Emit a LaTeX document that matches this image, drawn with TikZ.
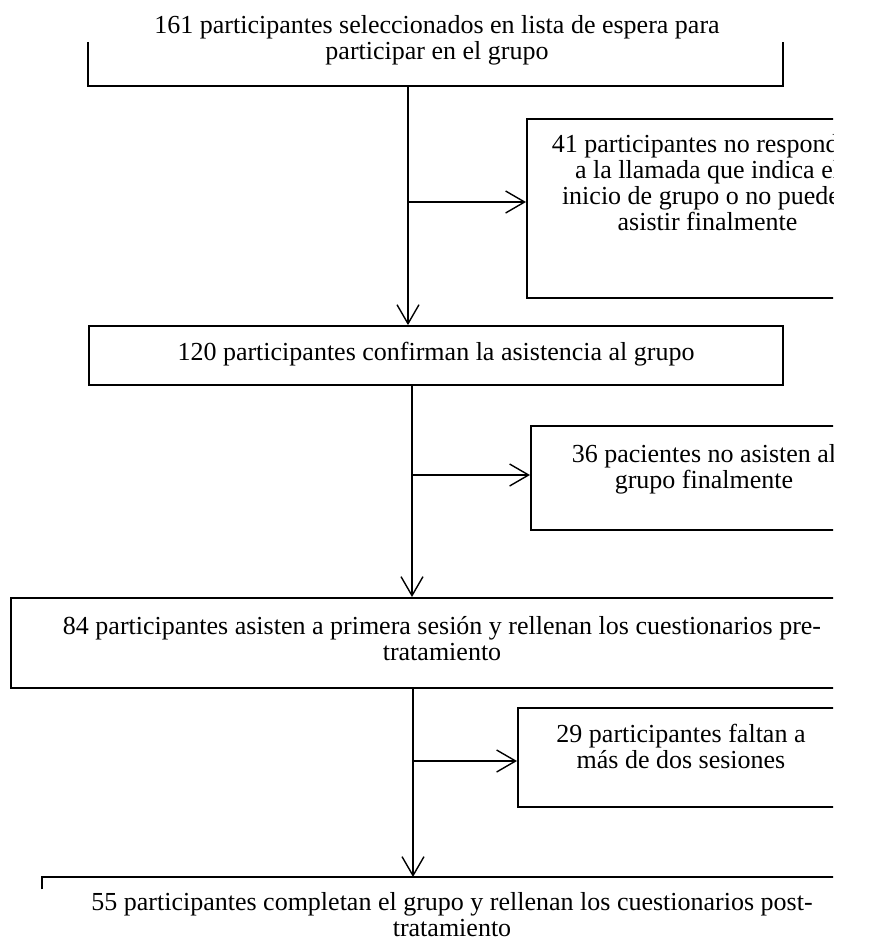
\documentclass[tikz,border=0pt]{standalone}
\usepackage{fontspec}
\setmainfont{Liberation Serif}
\usetikzlibrary{arrows.meta,calc}
\begin{document}
\begin{tikzpicture}[x=1pt,y=-1pt,
  txt/.style={inner sep=0pt,align=center,font=\fontsize{26}{26}\selectfont,
    execute at begin node=\strut,execute at end node=\strut,anchor=north},
  boxline/.style={draw=black,line width=1.8pt},
  frame/.style={boxline,inner sep=0pt,minimum width=#1},
  arr/.style={line width=1.4pt,-{Straight Barb[length=19pt,width=22pt,line width=1.4pt]}}]
\useasboundingbox (0,0) rectangle (868,943);
\begin{scope}
\clip (0,0) rectangle (833,943);
% top box (partly visible)
\node[inner sep=0pt,minimum width=695pt,minimum height=44pt] (top) at (435.5,64) {};
\draw[boxline] (top.north west) -- (top.south west) -- (top.south east) -- (top.north east);
\node[txt] (t1) at (437,14.8) {161 participantes seleccionados en lista de espera para\\participar en el grupo};
% box 2
\node[frame=694pt,minimum height=59pt,txt,anchor=center] (b2) at (436,355.5) {120 participantes confirman la asistencia al grupo};
% box 41
\node[frame=363pt,minimum height=179pt,anchor=north west] (b41) at (526,118) {};
\node[txt] (t41) at (707.5,133.8) {41 participantes no responden\\a la llamada que indica el\\inicio de grupo o no pueden\\asistir finalmente};
% box 36
\node[frame=348pt,minimum height=104pt,anchor=north west] (b36) at (530,425) {};
\node[txt] (t36) at (704,443.8) {36 pacientes no asisten al\\grupo finalmente};
% box 3
\node[frame=864pt,minimum height=90pt,anchor=north west] (b3) at (10,597) {};
\node[txt] (t3) at (442,615.8) {84 participantes asisten a primera sesión y rellenan los cuestionarios pre-\\tratamiento};
% box 29
\node[frame=328pt,minimum height=99pt,anchor=north west] (b29) at (517,707) {};
\node[txt] (t29) at (681,723.5) {29 participantes faltan a\\más de dos sesiones};
% box 4 (partly visible)
\node[inner sep=0pt,minimum width=821pt,minimum height=12pt,anchor=north west] (b4) at (42,877) {};
\draw[boxline] (b4.south west) -- (b4.north west) -- (b4.north east);
\node[txt] (t4) at (452,891.8) {55 participantes completan el grupo y rellenan los cuestionarios post-\\tratamiento};
% connectors
\coordinate (c1) at (408,202);
\coordinate (c2) at (412,475);
\coordinate (c3) at (413,761);
\draw[arr] (top.south -| c1) -- (b2.north -| c1);
\draw[arr] (c1) -- (c1 -| b41.west);
\draw[arr] (b2.south -| c2) -- (b3.north -| c2);
\draw[arr] (c2) -- (c2 -| b36.west);
\draw[arr] (b3.south -| c3) -- (b4.north -| c3);
\draw[arr] (c3) -- (c3 -| b29.west);
\end{scope}
\end{tikzpicture}
\end{document}
